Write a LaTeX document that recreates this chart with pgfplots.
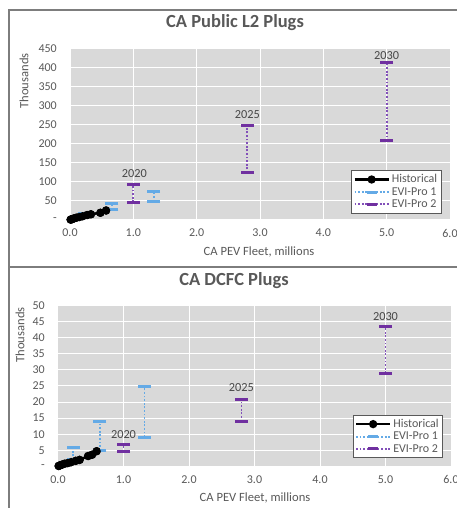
\documentclass[border=0pt]{standalone}
\usepackage{fontspec}
\setmainfont{Carlito}
\usepackage{pgfplots}
\pgfplotsset{compat=1.18}
\definecolor{txt}{RGB}{89,89,89}
\definecolor{plotbg}{RGB}{217,217,217}
\definecolor{evione}{RGB}{100,170,230}
\definecolor{evitwo}{RGB}{112,48,160}
\definecolor{evitwol}{RGB}{130,80,185}
\definecolor{framec}{RGB}{125,125,125}
\tikzset{yr/.style={font=\fontsize{12.3}{14}\selectfont, text=txt!80!black}}
\pgfplotsset{
 common/.style={
  scale only axis,
  xmin=0, xmax=6,
  axis background/.style={fill=plotbg},
  axis line style={draw=none},
  major tick length=0pt,
  grid=major,
  major grid style={white, line width=1pt},
  xtick={0,1,...,6},
  tick label style={font=\fontsize{12}{14}\selectfont, text=txt},
  /pgf/number format/assume math mode=true,
  yticklabel style={anchor=east, inner sep=0pt, xshift=-13pt},
  xticklabel style={anchor=center, yshift=-13pt, /pgf/number format/.cd, fixed, fixed zerofill, precision=1},
  unbounded coords=jump,
  legend cell align=left,
  legend style={font=\fontsize{12}{14}\selectfont, text=txt, draw=txt, fill=white, line width=0.8pt, inner sep=2pt, row sep=-1pt},
  legend image code/.code={\draw[mark repeat=2,mark phase=2] plot coordinates {(0cm,0cm) (0.6cm,0cm) (1.2cm,0cm)};},
 },
 hist/.style={color=black, line width=2.2pt, mark=*, mark size=3pt, mark options={solid}},
 evo/.style={color=evione, dash pattern=on 1.8pt off 1.8pt, line width=1.8pt, mark=-, mark size=6.5pt, mark options={solid, line width=3pt, color=evione}, legend image post style={mark size=5pt}},
 evt/.style={color=evitwol, dash pattern=on 1.8pt off 1.8pt, line width=1.8pt, mark=-, mark size=6.5pt, mark options={solid, line width=3pt, color=evitwo}, legend image post style={mark size=5pt}},
}
\begin{document}
\begin{tikzpicture}
\path[use as bounding box] (0,0) rectangle (456pt,508pt);
\fill[white] (0,0) rectangle (456pt,508pt);
% ---------- top chart ----------
\begin{axis}[common, at={(70pt,288pt)}, anchor=south west,
  width=380pt, height=171pt, ymin=0, ymax=450,
  ytick={0,50,...,450},
  yticklabels={-\hspace{5pt},50,100,150,200,250,300,350,400,450},
  legend style={at={(0.978,0.039)}, anchor=south east}]
\addplot[hist] coordinates {(0.01,1) (0.03,2) (0.06,4) (0.1,6) (0.15,8) (0.2,10) (0.27,13) (0.33,15) (0.48,19) (0.57,25)};
\addlegendentry{Historical}
\addplot[evo] coordinates {(0.23,11) (0.23,17) (0.4,nan) (0.66,27) (0.66,43) (1,nan) (1.32,49) (1.32,76)};
\addlegendentry{EVI-Pro 1}
\addplot[evt] coordinates {(1.0,47) (1.0,93) (2,nan) (2.8,124) (2.8,249) (4,nan) (5.0,208) (5.0,414)};
\addlegendentry{EVI-Pro 2}
\addplot[hist, forget plot] coordinates {(0.01,1) (0.03,2) (0.06,4) (0.1,6) (0.15,8) (0.2,10) (0.27,13) (0.33,15) (0.48,19) (0.57,25)};
\node[yr] at (axis cs:1.015,123) {2020};
\node[yr] at (axis cs:2.8,278) {2025};
\node[yr] at (axis cs:5.0,432) {2030};
\end{axis}
% ---------- bottom chart ----------
\begin{axis}[common, at={(58pt,41.7pt)}, anchor=south west,
  width=393pt, height=160.6pt, ymin=0, ymax=50,
  ytick={0,5,...,50},
  yticklabels={-\hspace{5pt},5,10,15,20,25,30,35,40,45,50},
  legend style={at={(0.98,0.052)}, anchor=south east}]
\addplot[hist] coordinates {(0.01,0.1) (0.03,0.3) (0.06,0.5) (0.1,0.8) (0.15,1.0) (0.2,1.3) (0.27,1.7) (0.33,2.0) (0.46,3.2) (0.52,3.6) (0.59,4.7)};
\addlegendentry{Historical}
\addplot[evo] coordinates {(0.23,2.0) (0.23,5.9) (0.4,nan) (0.64,4.9) (0.64,13.8) (1,nan) (1.32,9.1) (1.32,24.9)};
\addlegendentry{EVI-Pro 1}
\addplot[evt] coordinates {(1.0,4.5) (1.0,6.8) (2,nan) (2.8,14) (2.8,20.9) (4,nan) (5.0,29) (5.0,43.4)};
\addlegendentry{EVI-Pro 2}
\addplot[hist, forget plot] coordinates {(0.01,0.1) (0.03,0.3) (0.06,0.5) (0.1,0.8) (0.15,1.0) (0.2,1.3) (0.27,1.7) (0.33,2.0) (0.46,3.2) (0.52,3.6) (0.59,4.7)};
\node[yr] at (axis cs:1.0,10.0) {2020};
\node[yr] at (axis cs:2.8,24.4) {2025};
\node[yr] at (axis cs:5.0,46.7) {2030};
\end{axis}
% ---------- titles and labels ----------
\node[font=\bfseries\fontsize{18.5}{20}\selectfont, text=txt] at (235pt,485pt) {CA Public L2 Plugs};
\node[font=\bfseries\fontsize{18.5}{20}\selectfont, text=txt] at (234pt,227.3pt) {CA DCFC Plugs};
\node[font=\fontsize{12.6}{14}\selectfont, text=txt] at (259pt,256pt) {CA PEV Fleet, millions};
\node[font=\fontsize{12.6}{14}\selectfont, text=txt] at (255pt,10pt) {CA PEV Fleet, millions};
\node[font=\fontsize{12.6}{14}\selectfont, text=txt, rotate=90] at (24pt,427pt) {Thousands};
\node[font=\fontsize{12.6}{14}\selectfont, text=txt, rotate=90] at (20pt,173pt) {Thousands};
% ---------- frame ----------
\draw[framec, line width=1.2pt] (9pt,0) -- (9pt,498pt) -- (457pt,498pt);
\draw[framec, line width=1.2pt] (9pt,241pt) -- (457pt,241pt);
\end{tikzpicture}
\end{document}
